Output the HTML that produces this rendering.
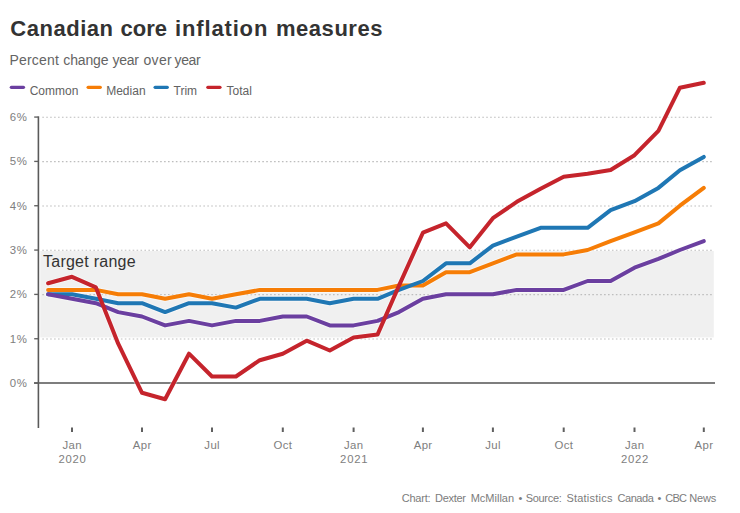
<!DOCTYPE html>
<html><head><meta charset="utf-8"><title>Canadian core inflation measures</title>
<style>
html,body{margin:0;padding:0;background:#fff;}
body{width:740px;height:513px;position:relative;overflow:hidden;font-family:"Liberation Sans",sans-serif;}
.t{position:absolute;left:0;top:0;line-height:1;white-space:nowrap;transform-origin:0 0;}
</style></head><body>
<svg width="740" height="513" viewBox="0 0 740 513" style="position:absolute;left:0;top:0">
<rect x="40.3" y="251.0" width="673.5" height="86.4" fill="#f0f0f0"/>
<line x1="42.3" x2="712.6" y1="338.97" y2="338.97" stroke="#bdbdbd" stroke-width="1.1" stroke-dasharray="1.6,2.3285"/>
<line x1="42.3" x2="712.6" y1="294.63" y2="294.63" stroke="#bdbdbd" stroke-width="1.1" stroke-dasharray="1.6,2.3285"/>
<line x1="42.3" x2="712.6" y1="250.30" y2="250.30" stroke="#bdbdbd" stroke-width="1.1" stroke-dasharray="1.6,2.3285"/>
<line x1="42.3" x2="712.6" y1="205.97" y2="205.97" stroke="#bdbdbd" stroke-width="1.1" stroke-dasharray="1.6,2.3285"/>
<line x1="42.3" x2="712.6" y1="161.64" y2="161.64" stroke="#bdbdbd" stroke-width="1.1" stroke-dasharray="1.6,2.3285"/>
<line x1="42.3" x2="712.6" y1="117.30" y2="117.30" stroke="#bdbdbd" stroke-width="1.1" stroke-dasharray="1.6,2.3285"/>
<rect x="37.6" y="116.3" width="1.6" height="311.7" fill="#5a5a5a"/>
<rect x="34.2" y="382.40" width="4" height="1.35" fill="#606060"/>
<rect x="34.2" y="338.07" width="4" height="1.35" fill="#606060"/>
<rect x="34.2" y="293.73" width="4" height="1.35" fill="#606060"/>
<rect x="34.2" y="249.40" width="4" height="1.35" fill="#606060"/>
<rect x="34.2" y="205.07" width="4" height="1.35" fill="#606060"/>
<rect x="34.2" y="160.74" width="4" height="1.35" fill="#606060"/>
<rect x="34.2" y="116.40" width="4" height="1.35" fill="#606060"/>
<rect x="34" y="382.20" width="681" height="1.6" fill="#5f5f5f"/>
<rect x="71.0" y="427.5" width="2" height="4.5" fill="#606060"/>
<rect x="141.0" y="427.5" width="2" height="4.5" fill="#606060"/>
<rect x="211.0" y="427.5" width="2" height="4.5" fill="#606060"/>
<rect x="281.8" y="427.5" width="2" height="4.5" fill="#606060"/>
<rect x="352.6" y="427.5" width="2" height="4.5" fill="#606060"/>
<rect x="421.9" y="427.5" width="2" height="4.5" fill="#606060"/>
<rect x="491.9" y="427.5" width="2" height="4.5" fill="#606060"/>
<rect x="562.7" y="427.5" width="2" height="4.5" fill="#606060"/>
<rect x="633.5" y="427.5" width="2" height="4.5" fill="#606060"/>
<rect x="702.8" y="427.5" width="2" height="4.5" fill="#606060"/>
<path d="M48.1,289.9 L72.0,289.9 L95.9,289.9 L118.2,294.3 L142.0,294.3 L165.1,298.8 L189.0,294.3 L212.0,298.8 L235.9,294.3 L259.8,289.9 L282.8,289.9 L306.7,289.9 L329.8,289.9 L353.6,289.9 L377.5,289.9 L399.0,285.5 L422.9,285.5 L446.0,272.2 L469.8,272.2 L492.9,263.3 L516.8,254.4 L540.6,254.4 L563.7,254.4 L587.6,250.0 L610.6,241.1 L634.5,232.3 L658.4,223.4 L679.9,205.7 L703.8,187.9" fill="none" stroke="#fff" stroke-opacity="0.45" stroke-width="6" stroke-linejoin="round" stroke-linecap="round"/>
<path d="M48.1,294.3 L72.0,294.3 L95.9,298.8 L118.2,303.2 L142.0,303.2 L165.1,312.1 L189.0,303.2 L212.0,303.2 L235.9,307.6 L259.8,298.8 L282.8,298.8 L306.7,298.8 L329.8,303.2 L353.6,298.8 L377.5,298.8 L399.0,289.9 L422.9,281.0 L446.0,263.3 L469.8,263.3 L492.9,245.6 L516.8,236.7 L540.6,227.8 L563.7,227.8 L587.6,227.8 L610.6,210.1 L634.5,201.2 L658.4,187.9 L679.9,170.2 L703.8,156.9" fill="none" stroke="#fff" stroke-opacity="0.45" stroke-width="6" stroke-linejoin="round" stroke-linecap="round"/>
<path d="M48.1,294.3 L72.0,298.8 L95.9,303.2 L118.2,312.1 L142.0,316.5 L165.1,325.4 L189.0,320.9 L212.0,325.4 L235.9,320.9 L259.8,320.9 L282.8,316.5 L306.7,316.5 L329.8,325.4 L353.6,325.4 L377.5,320.9 L399.0,312.1 L422.9,298.8 L446.0,294.3 L469.8,294.3 L492.9,294.3 L516.8,289.9 L540.6,289.9 L563.7,289.9 L587.6,281.0 L610.6,281.0 L634.5,267.7 L658.4,258.9 L679.9,250.0 L703.8,241.1" fill="none" stroke="#fff" stroke-opacity="0.45" stroke-width="6" stroke-linejoin="round" stroke-linecap="round"/>
<path d="M48.1,283.3 L72.0,276.8 L95.9,287.4 L118.2,343.7 L142.0,392.8 L165.1,399.2 L189.0,353.7 L212.0,376.5 L235.9,376.5 L259.8,360.2 L282.8,353.8 L306.7,340.7 L329.8,350.5 L353.6,337.6 L377.5,334.6 L399.0,285.6 L422.9,232.7 L446.0,223.4 L469.8,247.3 L492.9,218.2 L516.8,201.8 L540.6,188.7 L563.7,176.7 L587.6,173.7 L610.6,170.0 L634.5,155.2 L658.4,130.9 L679.9,87.7 L703.8,82.8" fill="none" stroke="#fff" stroke-opacity="0.45" stroke-width="6" stroke-linejoin="round" stroke-linecap="round"/>
<path d="M48.1,289.9 L72.0,289.9 L95.9,289.9 L118.2,294.3 L142.0,294.3 L165.1,298.8 L189.0,294.3 L212.0,298.8 L235.9,294.3 L259.8,289.9 L282.8,289.9 L306.7,289.9 L329.8,289.9 L353.6,289.9 L377.5,289.9 L399.0,285.5 L422.9,285.5 L446.0,272.2 L469.8,272.2 L492.9,263.3 L516.8,254.4 L540.6,254.4 L563.7,254.4 L587.6,250.0 L610.6,241.1 L634.5,232.3 L658.4,223.4 L679.9,205.7 L703.8,187.9" fill="none" stroke="#f67d06" stroke-width="4" stroke-linejoin="round" stroke-linecap="round"/>
<path d="M48.1,294.3 L72.0,294.3 L95.9,298.8 L118.2,303.2 L142.0,303.2 L165.1,312.1 L189.0,303.2 L212.0,303.2 L235.9,307.6 L259.8,298.8 L282.8,298.8 L306.7,298.8 L329.8,303.2 L353.6,298.8 L377.5,298.8 L399.0,289.9 L422.9,281.0 L446.0,263.3 L469.8,263.3 L492.9,245.6 L516.8,236.7 L540.6,227.8 L563.7,227.8 L587.6,227.8 L610.6,210.1 L634.5,201.2 L658.4,187.9 L679.9,170.2 L703.8,156.9" fill="none" stroke="#1f77b4" stroke-width="4" stroke-linejoin="round" stroke-linecap="round"/>
<path d="M48.1,294.3 L72.0,298.8 L95.9,303.2 L118.2,312.1 L142.0,316.5 L165.1,325.4 L189.0,320.9 L212.0,325.4 L235.9,320.9 L259.8,320.9 L282.8,316.5 L306.7,316.5 L329.8,325.4 L353.6,325.4 L377.5,320.9 L399.0,312.1 L422.9,298.8 L446.0,294.3 L469.8,294.3 L492.9,294.3 L516.8,289.9 L540.6,289.9 L563.7,289.9 L587.6,281.0 L610.6,281.0 L634.5,267.7 L658.4,258.9 L679.9,250.0 L703.8,241.1" fill="none" stroke="#6b3fa0" stroke-width="4" stroke-linejoin="round" stroke-linecap="round"/>
<path d="M48.1,283.3 L72.0,276.8 L95.9,287.4 L118.2,343.7 L142.0,392.8 L165.1,399.2 L189.0,353.7 L212.0,376.5 L235.9,376.5 L259.8,360.2 L282.8,353.8 L306.7,340.7 L329.8,350.5 L353.6,337.6 L377.5,334.6 L399.0,285.6 L422.9,232.7 L446.0,223.4 L469.8,247.3 L492.9,218.2 L516.8,201.8 L540.6,188.7 L563.7,176.7 L587.6,173.7 L610.6,170.0 L634.5,155.2 L658.4,130.9 L679.9,87.7 L703.8,82.8" fill="none" stroke="#c5242c" stroke-width="4" stroke-linejoin="round" stroke-linecap="round"/>
<line x1="11.3" x2="23.5" y1="87.3" y2="87.3" stroke="#6b3fa0" stroke-width="3.2" stroke-linecap="round"/>
<line x1="88.1" x2="100.3" y1="87.3" y2="87.3" stroke="#f67d06" stroke-width="3.2" stroke-linecap="round"/>
<line x1="155.1" x2="167.3" y1="87.3" y2="87.3" stroke="#1f77b4" stroke-width="3.2" stroke-linecap="round"/>
<line x1="207.8" x2="220.0" y1="87.3" y2="87.3" stroke="#c5242c" stroke-width="3.2" stroke-linecap="round"/>
</svg>
<div class="t title" style="letter-spacing:0.53px;word-spacing:0px;font-size:22px;color:#333;font-weight:bold;transform:translate(10.30px,18.00px) rotate(0.001deg);">Canadian</div>
<div class="t title" style="letter-spacing:0.05px;word-spacing:0px;font-size:22px;color:#333;font-weight:bold;transform:translate(120.40px,18.00px) rotate(0.001deg);">core</div>
<div class="t title" style="letter-spacing:0.85px;word-spacing:0px;font-size:22px;color:#333;font-weight:bold;transform:translate(175.00px,18.00px) rotate(0.001deg);">inflation</div>
<div class="t title" style="letter-spacing:0.53px;word-spacing:0px;font-size:22px;color:#333;font-weight:bold;transform:translate(276.00px,18.00px) rotate(0.001deg);">measures</div>
<div class="t sub" style="letter-spacing:0.2px;word-spacing:0px;font-size:14px;color:#646464;font-weight:normal;transform:translate(9.40px,53.20px) rotate(0.001deg);">Percent</div>
<div class="t sub" style="letter-spacing:-0.15px;word-spacing:0px;font-size:14px;color:#646464;font-weight:normal;transform:translate(63.30px,53.20px) rotate(0.001deg);">change</div>
<div class="t sub" style="letter-spacing:-0.3px;word-spacing:0px;font-size:14px;color:#646464;font-weight:normal;transform:translate(112.60px,53.20px) rotate(0.001deg);">year</div>
<div class="t sub" style="letter-spacing:0.35px;word-spacing:0px;font-size:14px;color:#646464;font-weight:normal;transform:translate(143.40px,53.20px) rotate(0.001deg);">over</div>
<div class="t sub" style="letter-spacing:-0.4px;word-spacing:0px;font-size:14px;color:#646464;font-weight:normal;transform:translate(174.60px,53.20px) rotate(0.001deg);">year</div>
<div class="t leg" style="font-size:12px;color:#626262;font-weight:normal;transform:translate(29.70px,84.90px) rotate(0.001deg);">Common</div>
<div class="t leg" style="font-size:12px;color:#626262;font-weight:normal;transform:translate(106.20px,84.90px) rotate(0.001deg);">Median</div>
<div class="t leg" style="font-size:12px;color:#626262;font-weight:normal;transform:translate(173.50px,84.90px) rotate(0.001deg);">Trim</div>
<div class="t leg" style="font-size:12px;color:#626262;font-weight:normal;transform:translate(226.50px,84.90px) rotate(0.001deg);">Total</div>
<div class="t yl" style="letter-spacing:0.5px;word-spacing:0px;font-size:11.4px;color:#7e7e7e;font-weight:normal;transform:translate(27.30px,377.90px) translateX(-100%) rotate(0.001deg);">0%</div>
<div class="t yl" style="letter-spacing:0.5px;word-spacing:0px;font-size:11.4px;color:#7e7e7e;font-weight:normal;transform:translate(27.30px,333.57px) translateX(-100%) rotate(0.001deg);">1%</div>
<div class="t yl" style="letter-spacing:0.5px;word-spacing:0px;font-size:11.4px;color:#7e7e7e;font-weight:normal;transform:translate(27.30px,289.23px) translateX(-100%) rotate(0.001deg);">2%</div>
<div class="t yl" style="letter-spacing:0.5px;word-spacing:0px;font-size:11.4px;color:#7e7e7e;font-weight:normal;transform:translate(27.30px,244.90px) translateX(-100%) rotate(0.001deg);">3%</div>
<div class="t yl" style="letter-spacing:0.5px;word-spacing:0px;font-size:11.4px;color:#7e7e7e;font-weight:normal;transform:translate(27.30px,200.57px) translateX(-100%) rotate(0.001deg);">4%</div>
<div class="t yl" style="letter-spacing:0.5px;word-spacing:0px;font-size:11.4px;color:#7e7e7e;font-weight:normal;transform:translate(27.30px,156.24px) translateX(-100%) rotate(0.001deg);">5%</div>
<div class="t yl" style="letter-spacing:0.5px;word-spacing:0px;font-size:11.4px;color:#7e7e7e;font-weight:normal;transform:translate(27.30px,111.90px) translateX(-100%) rotate(0.001deg);">6%</div>
<div class="t tr" style="letter-spacing:0.25px;word-spacing:0px;font-size:16px;color:#333;font-weight:normal;transform:translate(43.00px,253.50px) rotate(0.001deg);">Target range</div>
<div class="t xl" style="letter-spacing:0.35px;word-spacing:0px;font-size:11.4px;color:#7e7e7e;font-weight:normal;transform:translate(72.17px,440.00px) translateX(-50%) rotate(0.001deg);">Jan</div>
<div class="t xl" style="letter-spacing:0.75px;word-spacing:0px;font-size:11.3px;color:#7e7e7e;font-weight:normal;transform:translate(72.58px,454.25px) translateX(-50%) rotate(0.001deg);">2020</div>
<div class="t xl" style="letter-spacing:0.35px;word-spacing:0px;font-size:11.4px;color:#7e7e7e;font-weight:normal;transform:translate(142.18px,440.00px) translateX(-50%) rotate(0.001deg);">Apr</div>
<div class="t xl" style="letter-spacing:0.35px;word-spacing:0px;font-size:11.4px;color:#7e7e7e;font-weight:normal;transform:translate(212.18px,440.00px) translateX(-50%) rotate(0.001deg);">Jul</div>
<div class="t xl" style="letter-spacing:0.35px;word-spacing:0px;font-size:11.4px;color:#7e7e7e;font-weight:normal;transform:translate(282.98px,440.00px) translateX(-50%) rotate(0.001deg);">Oct</div>
<div class="t xl" style="letter-spacing:0.35px;word-spacing:0px;font-size:11.4px;color:#7e7e7e;font-weight:normal;transform:translate(353.78px,440.00px) translateX(-50%) rotate(0.001deg);">Jan</div>
<div class="t xl" style="letter-spacing:0.75px;word-spacing:0px;font-size:11.3px;color:#7e7e7e;font-weight:normal;transform:translate(354.18px,454.25px) translateX(-50%) rotate(0.001deg);">2021</div>
<div class="t xl" style="letter-spacing:0.35px;word-spacing:0px;font-size:11.4px;color:#7e7e7e;font-weight:normal;transform:translate(423.07px,440.00px) translateX(-50%) rotate(0.001deg);">Apr</div>
<div class="t xl" style="letter-spacing:0.35px;word-spacing:0px;font-size:11.4px;color:#7e7e7e;font-weight:normal;transform:translate(493.07px,440.00px) translateX(-50%) rotate(0.001deg);">Jul</div>
<div class="t xl" style="letter-spacing:0.35px;word-spacing:0px;font-size:11.4px;color:#7e7e7e;font-weight:normal;transform:translate(563.88px,440.00px) translateX(-50%) rotate(0.001deg);">Oct</div>
<div class="t xl" style="letter-spacing:0.35px;word-spacing:0px;font-size:11.4px;color:#7e7e7e;font-weight:normal;transform:translate(634.67px,440.00px) translateX(-50%) rotate(0.001deg);">Jan</div>
<div class="t xl" style="letter-spacing:0.75px;word-spacing:0px;font-size:11.3px;color:#7e7e7e;font-weight:normal;transform:translate(635.08px,454.25px) translateX(-50%) rotate(0.001deg);">2022</div>
<div class="t xl" style="letter-spacing:0.35px;word-spacing:0px;font-size:11.4px;color:#7e7e7e;font-weight:normal;transform:translate(703.97px,440.00px) translateX(-50%) rotate(0.001deg);">Apr</div>
<div class="t foot" style="letter-spacing:-0.2px;word-spacing:0px;font-size:11px;color:#7c7c7c;font-weight:normal;transform:translate(401.70px,493.30px) rotate(0.001deg);">Chart:</div>
<div class="t foot" style="letter-spacing:-0.3px;word-spacing:0px;font-size:11px;color:#7c7c7c;font-weight:normal;transform:translate(435.00px,493.30px) rotate(0.001deg);">Dexter</div>
<div class="t foot" style="font-size:11px;color:#7c7c7c;font-weight:normal;transform:translate(470.70px,493.30px) rotate(0.001deg);">McMillan</div>
<div class="t foot" style="font-size:11px;color:#7c7c7c;font-weight:normal;transform:translate(518.60px,493.30px) rotate(0.001deg);">•</div>
<div class="t foot" style="letter-spacing:-0.3px;word-spacing:0px;font-size:11px;color:#7c7c7c;font-weight:normal;transform:translate(525.70px,493.30px) rotate(0.001deg);">Source:</div>
<div class="t foot" style="letter-spacing:0.22px;word-spacing:0px;font-size:11px;color:#7c7c7c;font-weight:normal;transform:translate(566.40px,493.30px) rotate(0.001deg);">Statistics</div>
<div class="t foot" style="letter-spacing:-0.45px;word-spacing:0px;font-size:11px;color:#7c7c7c;font-weight:normal;transform:translate(617.50px,493.30px) rotate(0.001deg);">Canada</div>
<div class="t foot" style="font-size:11px;color:#7c7c7c;font-weight:normal;transform:translate(657.60px,493.30px) rotate(0.001deg);">•</div>
<div class="t foot" style="letter-spacing:-0.8px;word-spacing:0px;font-size:11px;color:#7c7c7c;font-weight:normal;transform:translate(665.30px,493.30px) rotate(0.001deg);">CBC</div>
<div class="t foot" style="letter-spacing:-0.15px;word-spacing:0px;font-size:11px;color:#7c7c7c;font-weight:normal;transform:translate(689.20px,493.30px) rotate(0.001deg);">News</div>
</body></html>
